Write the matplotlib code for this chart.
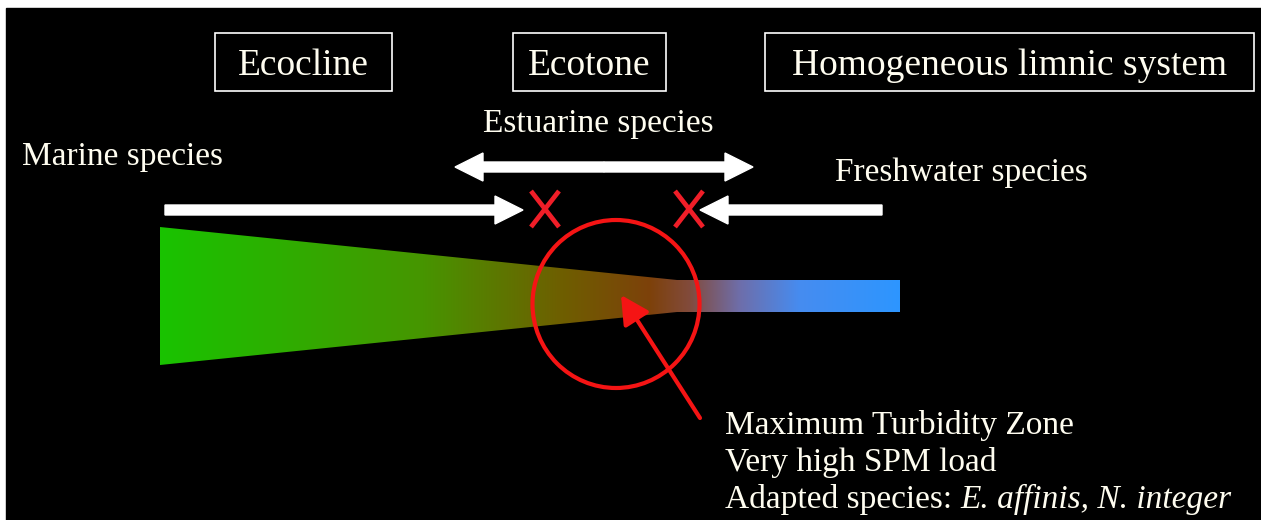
import matplotlib
matplotlib.use("Agg")
import matplotlib.pyplot as plt
import matplotlib.patches as mpatches
import numpy as np

# texts of the diagram
box_labels = ["Ecocline", "Ecotone", "Homogeneous limnic system"]
species_labels = ["Marine species", "Estuarine species", "Freshwater species"]
mtz_lines = ["Maximum Turbidity Zone", "Very high SPM load"]
mtz_last = ["Adapted species: ", "E. affinis, N. integer"]

# colour stops along the estuary (x position in px, rgb)
grad_x = [160, 420, 560, 650, 690, 740, 800, 900]
grad_rgb = [(25, 195, 0), (70, 150, 0), (110, 95, 0), (125, 65, 10),
            (130, 75, 60), (110, 110, 170), (70, 140, 240), (45, 150, 255)]

W, H = 1261, 520
fig = plt.figure(figsize=(W / 100, H / 100), dpi=100, facecolor="white")
ax = fig.add_axes([0, 0, 1, 1])
ax.set_xlim(0, W)
ax.set_ylim(H, 0)
ax.axis("off")

# black slide
ax.add_patch(mpatches.Rectangle((6, 8), W, H, color="black", zorder=0))

font = "Liberation Serif"
txt = "#fffdf0"

# boxes on top
box_pos = [(215, 33, 177, 58), (513, 33, 153, 58), (765, 33, 489, 58)]
for lab, (bx, by, bw, bh) in zip(box_labels, box_pos):
    ax.add_patch(mpatches.Rectangle((bx, by), bw, bh, fill=False, ec="white", lw=1.2))
    ax.text(bx + bw / 2, by + 42, lab, color=txt, fontsize=27, family=font,
            ha="center", va="baseline")

# species labels
ax.text(22, 165, species_labels[0], color=txt, fontsize=24, family=font, va="baseline")
ax.text(598, 132, species_labels[1], color=txt, fontsize=24, family=font, va="baseline", ha="center")
ax.text(835, 181, species_labels[2], color=txt, fontsize=24, family=font, va="baseline")

# estuary shape filled with a gradient
xs = np.arange(160, 901)
cols = np.array(grad_rgb) / 255.0
img = np.zeros((2, len(xs), 3))
for c in range(3):
    img[:, :, c] = np.interp(xs, grad_x, cols[:, c])
im = ax.imshow(img, extent=[160, 900, 365, 227], aspect="auto", zorder=1, interpolation="bilinear")
shape = mpatches.Polygon([(160, 227), (677, 280), (900, 280), (900, 312), (677, 312), (160, 365)],
                         closed=True, transform=ax.transData, fc="none", ec="none")
ax.add_patch(shape)
im.set_clip_path(shape)
ax.set_xlim(0, W)
ax.set_ylim(H, 0)

# white arrows
arr = dict(width=10, head_width=28, head_length=28, length_includes_head=True,
           fc="white", ec="white", zorder=3)
ax.add_patch(mpatches.FancyArrow(165, 210, 523 - 165, 0, **arr))
ax.add_patch(mpatches.FancyArrow(882, 210, 700 - 882, 0, **arr))
ax.add_patch(mpatches.FancyArrow(604, 167, 753 - 604, 0, **arr))
ax.add_patch(mpatches.FancyArrow(604, 167, 455 - 604, 0, **arr))

# red crosses
for cx in [545, 689]:
    ax.plot([cx - 14, cx + 14], [191, 227], color="#f01e28", lw=3.4, zorder=4, solid_capstyle="butt")
    ax.plot([cx + 14, cx - 14], [191, 227], color="#f01e28", lw=3.4, zorder=4, solid_capstyle="butt")

# red circle and arrow for the MTZ
ax.add_patch(mpatches.Ellipse((616, 304), 167, 168, fill=False, ec="#f51414", lw=3.0, zorder=4))
ax.annotate("", xy=(621, 295), xytext=(700, 418),
            arrowprops=dict(arrowstyle="-|>,head_length=0.95,head_width=0.5",
                            mutation_scale=18, color="#f51414", lw=3.0,
                            shrinkA=0, shrinkB=0), zorder=4)

# MTZ text
for i, line in enumerate(mtz_lines):
    ax.text(725, 434 + 37 * i, line, color=txt, fontsize=24, family=font, va="baseline")
t = ax.text(725, 508, mtz_last[0], color=txt, fontsize=24, family=font, va="baseline")
fig.canvas.draw()
bb = t.get_window_extent()
x_end = ax.transData.inverted().transform((bb.x1, bb.y0))[0]
ax.text(x_end, 508, mtz_last[1], color=txt, fontsize=24, family=font,
        style="italic", va="baseline")

fig.savefig("out.png", dpi=100, facecolor="white")
